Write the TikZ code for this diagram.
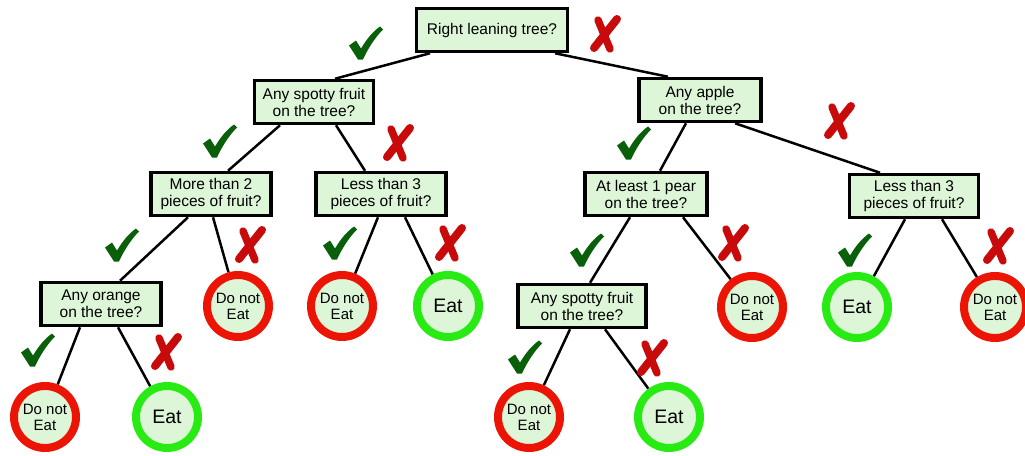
\documentclass[tikz,border=0pt]{standalone}
\usepackage{fontspec}
\setmainfont{Liberation Sans}
\usetikzlibrary{backgrounds}
\definecolor{boxfill}{RGB}{221,246,216}
\definecolor{nored}{RGB}{235,20,5}
\definecolor{yesgreen}{RGB}{40,235,20}
\definecolor{tickgreen}{RGB}{10,95,10}
\definecolor{crossred}{RGB}{200,10,10}
\begin{document}
\begin{tikzpicture}[x=1pt,y=-1pt,
  question/.style={draw=black, line width=3.5pt, fill=boxfill, align=center,
    font=\fontsize{15.5}{17}\selectfont, minimum height=43pt, inner xsep=4pt, inner ysep=3pt},
  leaf/.style={circle, line width=8pt, fill=boxfill, minimum size=62pt, inner sep=0pt, align=center},
  eat/.style={leaf, draw=yesgreen, font=\fontsize{19.5}{21}\selectfont},
  noeat/.style={leaf, draw=nored, font=\fontsize{15}{16}\selectfont},
  branch/.style={line width=2.5pt, draw=black},
  % brush-stroke tick, centred on the pic origin
  yesmark/.pic={
    \fill[tickgreen] (-17,2.5) -- (-10,-2.5) -- (-5,5.5)
      .. controls (1,-4.5) and (7,-11.5) .. (14,-16.5) -- (17,-13.5)
      .. controls (9,-5.5) and (2,5.5) .. (-3,16.5) -- (-8,16.5) -- cycle;
  },
  % brush-stroke cross, centred on the pic origin
  nomark/.pic={
    \draw[crossred, line width=8pt, line cap=round] (12,-15) -- (-11,14);
    \draw[crossred, line width=7.5pt, line cap=round] (-7,-14) -- (5,15);
  },
]
\useasboundingbox (0,0) rectangle (1025,455);

% questions
\node[question, minimum width=151pt] (top)    at (492,30)  {Right leaning tree?};
\node[question, minimum width=119pt] (spotA)  at (314,102) {Any spotty fruit\\on the tree?};
\node[question, minimum width=122pt] (apple)  at (700,100) {Any apple\\on the tree?};
\node[question, minimum width=120pt] (more)   at (211,194) {More than 2\\pieces of fruit?};
\node[question, minimum width=130pt] (lessA)  at (381,194) {Less than 3\\pieces of fruit?};
\node[question, minimum width=122pt] (pear)   at (646,194) {At least 1 pear\\on the tree?};
\node[question, minimum width=129pt] (lessB)  at (914,196) {Less than 3\\pieces of fruit?};
\node[question, minimum width=120pt] (orange) at (101,304) {Any orange\\on the tree?};
\node[question, minimum width=128pt] (spotB)  at (582,306) {Any spotty fruit\\on the tree?};

% answers
\node[noeat] (d1) at (238,306) {Do not\\Eat};
\node[noeat] (d2) at (342,306) {Do not\\Eat};
\node[eat]   (e1) at (448,306) {Eat};
\node[noeat] (d3) at (752,307) {Do not\\Eat};
\node[eat]   (e2) at (857,307) {Eat};
\node[noeat] (d4) at (995,307) {Do not\\Eat};
\node[noeat] (d5) at (45,417)  {Do not\\Eat};
\node[eat]   (e3) at (167,417) {Eat};
\node[noeat] (d6) at (529,417) {Do not\\Eat};
\node[eat]   (e4) at (669,417) {Eat};

% branches
\begin{scope}[on background layer]
\draw[branch] ([xshift=-62pt]top.south) -- ([xshift=21pt]spotA.north);
\draw[branch] ([xshift=63pt]top.south) -- ([xshift=-32pt]apple.north);
\draw[branch] ([xshift=-34pt]spotA.south) -- ([xshift=17pt]more.north);
\draw[branch] ([xshift=22pt]spotA.south) -- ([xshift=-16pt]lessA.north);
\draw[branch] ([xshift=-14pt]apple.south) -- ([xshift=14pt]pear.north);
\draw[branch] ([xshift=35pt]apple.south) -- ([xshift=-34pt]lessB.north);
\draw[branch] ([xshift=-23pt]more.south) -- ([xshift=19pt]orange.north);
\draw[branch] ([xshift=2pt]more.south) -- (d1);
\draw[branch] ([xshift=-3pt]lessA.south) -- (d2);
\draw[branch] ([xshift=24pt]lessA.south) -- (e1);
\draw[branch] ([xshift=-16pt]pear.south) -- ([xshift=8pt]spotB.north);
\draw[branch] ([xshift=37pt]pear.south) -- (d3);
\draw[branch] ([xshift=-9pt]lessB.south) -- (e2);
\draw[branch] ([xshift=28pt]lessB.south) -- (d4);
\draw[branch] ([xshift=-21pt]orange.south) -- (d5);
\draw[branch] ([xshift=17pt]orange.south) -- (e3);
\draw[branch] ([xshift=-12pt]spotB.south) -- (d6);
\draw[branch] ([xshift=23pt]spotB.south) -- (e4);
\end{scope}

% yes / no marks
\pic at (366,43)  {yesmark};
\pic at (605,34)  {nomark};
\pic at (220,141) {yesmark};
\pic at (398,143) {nomark};
\pic at (634,143) {yesmark};
\pic at (839,121) {nomark};
\pic at (122,245) {yesmark};
\pic at (250,245) {nomark};
\pic at (340,243) {yesmark};
\pic at (450,243) {nomark};
\pic at (587,250) {yesmark};
\pic at (733,243) {nomark};
\pic at (855,250) {yesmark};
\pic at (998,246) {nomark};
\pic at (38,350)  {yesmark};
\pic at (166,352) {nomark};
\pic at (525,357) {yesmark};
\pic at (652,358) {nomark};
\end{tikzpicture}
\end{document}
